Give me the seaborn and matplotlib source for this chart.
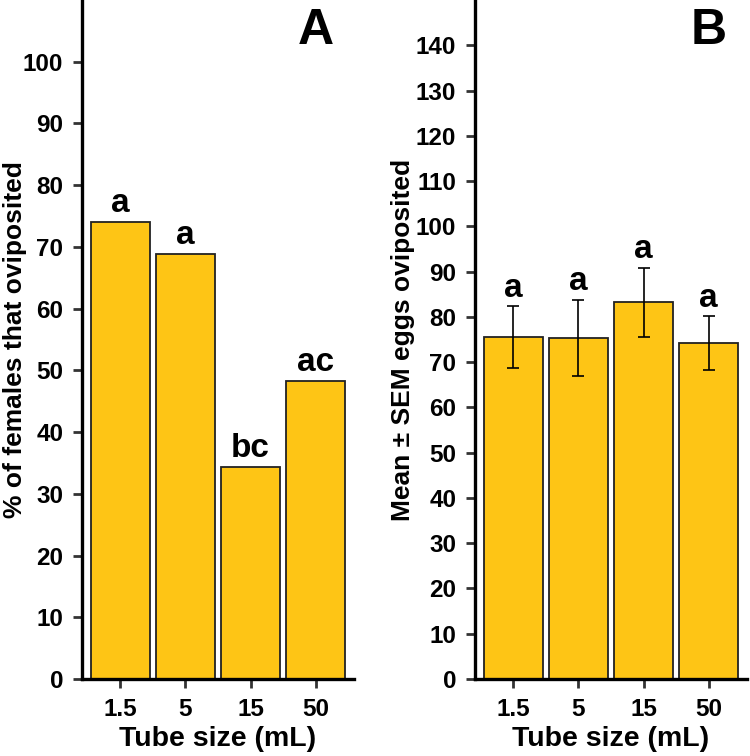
import numpy as np
import pandas as pd
import matplotlib
matplotlib.use('Agg')
import matplotlib.pyplot as plt
import seaborn as sns

# data
tube_sizes = ['1.5', '5', '15', '50']
pct_oviposited = [74.1, 68.9, 34.4, 48.3]
letters_a = ['a', 'a', 'bc', 'ac']

mean_eggs = [75.6, 75.4, 83.2, 74.2]
sem_low = [68.8, 67.0, 75.5, 68.3]
sem_high = [82.3, 83.7, 90.9, 80.1]
letters_b = ['a', 'a', 'a', 'a']

bar_color = '#FEC515'

sns.set_style('ticks')
plt.rcParams['font.family'] = ['Liberation Sans', 'DejaVu Sans']
plt.rcParams['font.weight'] = 'bold'
plt.rcParams['text.color'] = 'black'
plt.rcParams['axes.labelcolor'] = 'black'
plt.rcParams['xtick.labelcolor'] = 'black'
plt.rcParams['ytick.labelcolor'] = 'black'

fig = plt.figure(figsize=(7.5, 7.56), dpi=100)
ax_a = fig.add_axes([82 / 750, 77 / 756, 272 / 750, 679 / 756])
ax_b = fig.add_axes([475 / 750, 77 / 756, 272 / 750, 679 / 756])

df_a = pd.DataFrame({'tube': tube_sizes, 'pct': pct_oviposited})
df_b = pd.DataFrame({'tube': tube_sizes, 'eggs': mean_eggs})

sns.barplot(data=df_a, x='tube', y='pct', color=bar_color, saturation=1,
            width=0.9, edgecolor='#222222', linewidth=1.3, ax=ax_a)
sns.barplot(data=df_b, x='tube', y='eggs', color=bar_color, saturation=1,
            width=0.9, edgecolor='#222222', linewidth=1.3, ax=ax_b)

pos = np.arange(len(tube_sizes))
means = np.array(mean_eggs)
yerr = [means - np.array(sem_low), np.array(sem_high) - means]
ax_b.errorbar(pos, means, yerr=yerr, fmt='none', ecolor='black',
              elinewidth=1.2, capsize=4, capthick=1.2)

for i, (v, lab) in enumerate(zip(pct_oviposited, letters_a)):
    ax_a.annotate(lab, (i, v), xytext=(0, 7), textcoords='offset points',
                  ha='center', va='baseline', fontsize=24, fontweight='bold')
for i, (v, lab) in enumerate(zip(sem_high, letters_b)):
    ax_b.annotate(lab, (i, v), xytext=(0, 7), textcoords='offset points',
                  ha='center', va='baseline', fontsize=24, fontweight='bold')

for ax, ymax, yticks, ylabel, panel, lab_x in [
        (ax_a, 110, np.arange(0, 101, 10), '% of females that oviposited', 'A', -0.202),
        (ax_b, 150, np.arange(0, 141, 10), 'Mean ± SEM eggs oviposited', 'B', -0.222)]:
    ax.set_ylim(0, ymax)
    ax.set_xlim(-0.59, 3.59)
    ax.set_yticks(yticks)
    ax.set_ylabel(ylabel, fontsize=19, fontweight='bold')
    ax.yaxis.set_label_coords(lab_x, 0.5)
    ax.set_xlabel('Tube size (mL)', fontsize=20.5, fontweight='bold', labelpad=4)
    sns.despine(ax=ax)
    for side in ['left', 'bottom']:
        ax.spines[side].set_linewidth(2.4)
        ax.spines[side].set_color('black')
    ax.tick_params(axis='both', length=6.5, width=2, color='#333333',
                   labelcolor='black', labelsize=17.5, pad=7)
    for t in ax.get_xticklabels() + ax.get_yticklabels():
        t.set_fontweight('bold')
    ax.text(0.86, 0.955, panel, transform=ax.transAxes, fontsize=36,
            fontweight='bold', ha='center', va='center', color='black')

fig.savefig('out.png', dpi=100)
